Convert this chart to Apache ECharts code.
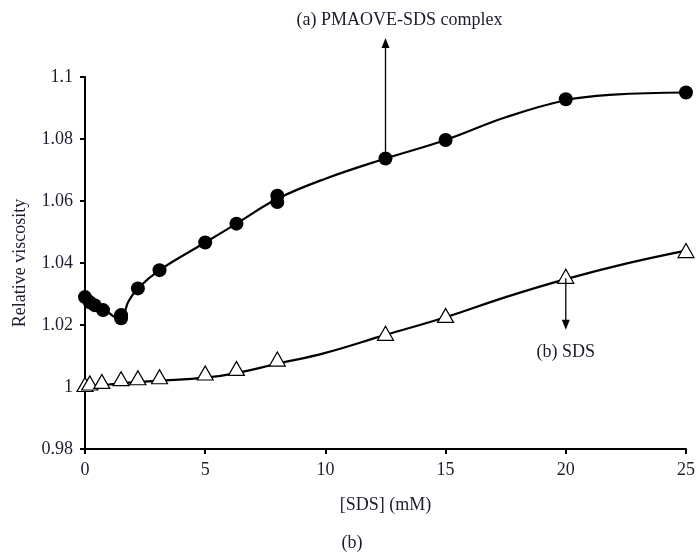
<!DOCTYPE html>
<html>
<head>
<meta charset="utf-8">
<script src="https://cdn.jsdelivr.net/npm/echarts@6/dist/echarts.min.js"></script>
<style>
  html, body { margin: 0; padding: 0; background: #fff; }
  #chart { width: 696px; height: 553px; }
</style>
</head>
<body>
<div id="chart"></div>
<script>
var complexX = [0, 0.2, 0.4, 0.75, 1.5, 1.5, 2.2, 3.1, 5, 6.3, 8, 8, 12.5, 15, 20, 25];
var complexY = [1.029, 1.0273, 1.0264, 1.0248, 1.0222, 1.0232, 1.0318, 1.0377, 1.0466, 1.0527, 1.0617, 1.0597, 1.0737, 1.0797, 1.0928, 1.0950];
var sdsX = [0, 0.2, 0.7, 1.5, 2.2, 3.1, 5, 6.3, 8, 12.5, 15, 20, 25];
var sdsY = [1.0008, 1.0013, 1.0018, 1.0027, 1.003, 1.0033, 1.0045, 1.006, 1.009, 1.0173, 1.0231, 1.0357, 1.0440];

// fitted curves as drawn in the figure
var complexFitX = [0, 0.4, 0.8, 1.4, 1.6, 1.8, 2.2, 3.1, 5, 6.3, 8, 10, 12.5, 15, 17.5, 20, 22, 25];
var complexFitY = [1.0285, 1.0265, 1.025, 1.0222, 1.0232, 1.0275, 1.0318, 1.0377, 1.0466, 1.0527, 1.0607, 1.0672, 1.0737, 1.0797, 1.0870, 1.0925, 1.0943, 1.0950];
var sdsFitX = [0, 1, 2, 3, 5, 6.3, 8, 10, 12.5, 15, 17.5, 20, 22.5, 25];
var sdsFitY = [1.0, 1.0008, 1.0015, 1.002, 1.003, 1.0045, 1.0075, 1.011, 1.0168, 1.0225, 1.029, 1.0348, 1.0398, 1.0440];

var xTicks = [0, 5, 10, 15, 20, 25];
var yTicks = [0.98, 1, 1.02, 1.04, 1.06, 1.08, 1.1];

function pairs(xs, ys) {
  var out = [];
  for (var i = 0; i < xs.length; i++) out.push([xs[i], ys[i]]);
  return out;
}

var font = "'Liberation Serif', 'DejaVu Serif', serif";
var ink = "#1c1c2e";

var chart = echarts.init(document.getElementById("chart"));
var option = {
  animation: false,
  textStyle: { fontFamily: font },
  grid: { left: 85, right: 10, top: 77, bottom: 104, containLabel: false, outerBoundsMode: "none" },
  xAxis: {
    type: "value",
    min: 0,
    max: 25,
    interval: 5,
    name: "[SDS] (mM)",
    nameLocation: "middle",
    nameGap: 47,
    nameTextStyle: { fontFamily: font, fontSize: 18, color: ink },
    axisLine: { lineStyle: { color: "#000", width: 2 } },
    axisTick: { length: 5, lineStyle: { color: "#000", width: 2 } },
    axisLabel: { fontFamily: font, fontSize: 18, color: ink, margin: 12,
      formatter: function (v) { return xTicks.indexOf(v) >= 0 ? String(v) : ""; } },
    splitLine: { show: false }
  },
  yAxis: {
    type: "value",
    min: 0.98,
    max: 1.1,
    interval: 0.02,
    name: "Relative viscosity",
    nameLocation: "middle",
    nameGap: 56,
    nameTextStyle: { fontFamily: font, fontSize: 18, color: ink },
    axisLine: { show: true, lineStyle: { color: "#000", width: 2 } },
    axisTick: { show: true, length: 5, lineStyle: { color: "#000", width: 2 } },
    axisLabel: { fontFamily: font, fontSize: 18, color: ink, margin: 12,
      formatter: function (v) {
        var r = Math.round(v * 100) / 100;
        return yTicks.indexOf(r) >= 0 ? String(r) : "";
      } },
    splitLine: { show: false }
  },
  series: [
    {
      name: "complex fit",
      type: "line",
      data: pairs(complexFitX, complexFitY),
      smooth: 0.4,
      showSymbol: false,
      lineStyle: { color: "#000", width: 2.2 },
      z: 2
    },
    {
      name: "SDS fit",
      type: "line",
      data: pairs(sdsFitX, sdsFitY),
      smooth: 0.4,
      showSymbol: false,
      lineStyle: { color: "#000", width: 2.2 },
      z: 2
    },
    {
      name: "(a) PMAOVE-SDS complex",
      type: "scatter",
      data: pairs(complexX, complexY),
      symbol: "circle",
      symbolSize: 14,
      itemStyle: { color: "#000", opacity: 1 },
      clip: false,
      z: 3
    },
    {
      name: "(b) SDS",
      type: "scatter",
      data: pairs(sdsX, sdsY),
      symbol: "triangle",
      symbolSize: [16, 14],
      itemStyle: { color: "#fff", borderColor: "#000", borderWidth: 1.2, opacity: 1 },
      clip: false,
      z: 3
    }
  ]
};
chart.setOption(option);

// annotation arrows, placed from data coordinates
var pa = chart.convertToPixel({ gridIndex: 0 }, [12.5, 1.0737]);
var pb = chart.convertToPixel({ gridIndex: 0 }, [20, 1.0357]);
var topY = chart.convertToPixel({ gridIndex: 0 }, [0, 1.1126])[1];
var downY = chart.convertToPixel({ gridIndex: 0 }, [0, 1.0185])[1];

function arrow(x, y1, y2) {
  var dir = y2 < y1 ? 1 : -1;
  return [
    { type: "line", shape: { x1: x, y1: y1, x2: x, y2: y2 + dir * 8 },
      style: { stroke: "#000", lineWidth: 1.3 }, z: 10 },
    { type: "polygon", shape: { points: [[x, y2], [x - 4, y2 + dir * 10], [x + 4, y2 + dir * 10]] },
      style: { fill: "#000" }, z: 10 }
  ];
}

chart.setOption({
  graphic: arrow(pa[0], pa[1] - 6, topY)
    .concat(arrow(pb[0], pb[1] + 2, downY))
    .concat([
      { type: "text", x: pa[0] + 14, y: 20,
        style: { text: "(a) PMAOVE-SDS complex", font: "18px " + font, fill: ink,
          textAlign: "center", textVerticalAlign: "middle" } },
      { type: "text", x: pb[0], y: 352,
        style: { text: "(b) SDS", font: "18px " + font, fill: ink,
          textAlign: "center", textVerticalAlign: "middle" } },
      { type: "text", x: 352, y: 543,
        style: { text: "(b)", font: "18px " + font, fill: ink,
          textAlign: "center", textVerticalAlign: "middle" } }
    ])
});

window.onresize = function () {
  chart.resize();
};
</script>
</body>
</html>
